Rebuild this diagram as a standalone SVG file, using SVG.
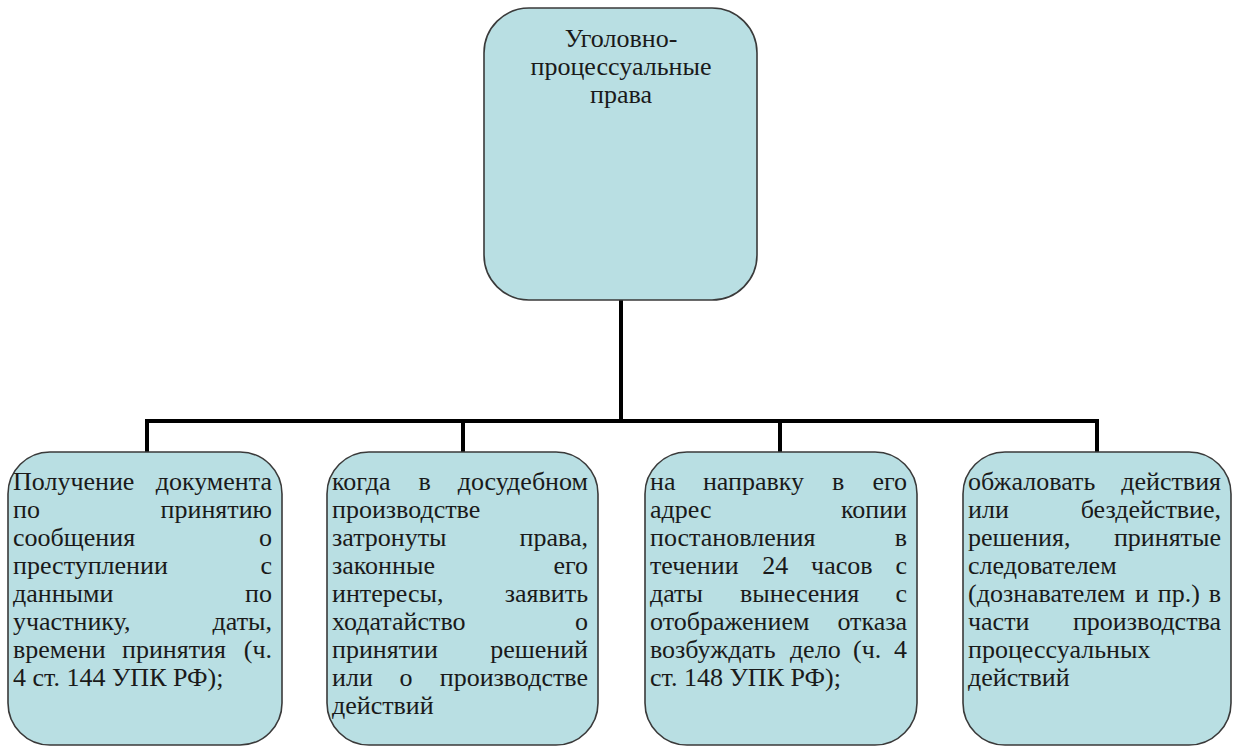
<svg xmlns="http://www.w3.org/2000/svg" width="1234" height="746" viewBox="0 0 1234 746">
<rect width="1234" height="746" fill="#fff"/>
<g id="connectors" stroke="#000" stroke-width="4" fill="none" stroke-linecap="square">
<path d="M621,300 V421"/>
<path d="M147,421 H1097"/>
<path d="M147,421 V452"/>
<path d="M463,421 V452"/>
<path d="M780,421 V452"/>
<path d="M1097,421 V452"/>
</g>
<g id="root">
<rect x="484" y="8" width="273" height="292" rx="45" fill="#b9dfe3" stroke="#3a3a3a" stroke-width="1.6"/>
<text x="621" y="47" text-anchor="middle" font-family="Liberation Serif" font-size="26" fill="#1a1a1a">Уголовно-</text>
<text x="621" y="75" text-anchor="middle" font-family="Liberation Serif" font-size="26" fill="#1a1a1a">процессуальные</text>
<text x="621" y="103" text-anchor="middle" font-family="Liberation Serif" font-size="26" fill="#1a1a1a">права</text>
</g>
<g id="n1" font-family="Liberation Serif" font-size="26" fill="#1a1a1a">
<rect x="8" y="452" width="274" height="293" rx="42" fill="#b9dfe3" stroke="#3a3a3a" stroke-width="1.6"/>
<text x="13" y="490">Получение</text><text x="272" y="490" text-anchor="end">документа</text>
<text x="13" y="518">по</text><text x="272" y="518" text-anchor="end">принятию</text>
<text x="13" y="546">сообщения</text><text x="272" y="546" text-anchor="end">о</text>
<text x="13" y="574">преступлении</text><text x="272" y="574" text-anchor="end">с</text>
<text x="13" y="602">данными</text><text x="272" y="602" text-anchor="end">по</text>
<text x="13" y="630">участнику,</text><text x="272" y="630" text-anchor="end">даты,</text>
<text x="13" y="658">времени</text><text x="122" y="658">принятия</text><text x="272" y="658" text-anchor="end">(ч.</text>
<text x="13" y="686">4 ст. 144 УПК РФ);</text>
</g>
<g id="n2" font-family="Liberation Serif" font-size="26" fill="#1a1a1a">
<rect x="327" y="452" width="271" height="293" rx="42" fill="#b9dfe3" stroke="#3a3a3a" stroke-width="1.6"/>
<text x="332" y="490">когда</text><text x="418.6" y="490">в</text><text x="588" y="490" text-anchor="end">досудебном</text>
<text x="332" y="518">производстве</text>
<text x="332" y="546">затронуты</text><text x="588" y="546" text-anchor="end">права,</text>
<text x="332" y="574">законные</text><text x="588" y="574" text-anchor="end">его</text>
<text x="332" y="602">интересы,</text><text x="588" y="602" text-anchor="end">заявить</text>
<text x="332" y="630">ходатайство</text><text x="588" y="630" text-anchor="end">о</text>
<text x="332" y="658">принятии</text><text x="588" y="658" text-anchor="end">решений</text>
<text x="332" y="686">или</text><text x="399.4" y="686">о</text><text x="588" y="686" text-anchor="end">производстве</text>
<text x="332" y="714">действий</text>
</g>
<g id="n3" font-family="Liberation Serif" font-size="26" fill="#1a1a1a">
<rect x="645" y="452" width="272" height="293" rx="42" fill="#b9dfe3" stroke="#3a3a3a" stroke-width="1.6"/>
<text x="650" y="490">на</text><text x="702.9" y="490">направку</text><text x="832.1" y="490">в</text><text x="907" y="490" text-anchor="end">его</text>
<text x="650" y="518">адрес</text><text x="907" y="518" text-anchor="end">копии</text>
<text x="650" y="546">постановления</text><text x="907" y="546" text-anchor="end">в</text>
<text x="650" y="574">течении</text><text x="762.2" y="574">24</text><text x="811.1" y="574">часов</text><text x="907" y="574" text-anchor="end">с</text>
<text x="650" y="602">даты</text><text x="740.1" y="602">вынесения</text><text x="907" y="602" text-anchor="end">с</text>
<text x="650" y="630">отображением</text><text x="907" y="630" text-anchor="end">отказа</text>
<text x="650" y="658">возбуждать</text><text x="789.9" y="658">дело</text><text x="853" y="658">(ч.</text><text x="907" y="658" text-anchor="end">4</text>
<text x="650" y="686">ст. 148 УПК РФ);</text>
</g>
<g id="n4" font-family="Liberation Serif" font-size="26" fill="#1a1a1a">
<rect x="963" y="452" width="268" height="293" rx="42" fill="#b9dfe3" stroke="#3a3a3a" stroke-width="1.6"/>
<text x="968" y="490">обжаловать</text><text x="1221" y="490" text-anchor="end">действия</text>
<text x="968" y="518">или</text><text x="1221" y="518" text-anchor="end">бездействие,</text>
<text x="968" y="546">решения,</text><text x="1221" y="546" text-anchor="end">принятые</text>
<text x="968" y="574">следователем</text>
<text x="968" y="602">(дознавателем</text><text x="1135" y="602">и</text><text x="1157.8" y="602">пр.)</text><text x="1221" y="602" text-anchor="end">в</text>
<text x="968" y="630">части</text><text x="1221" y="630" text-anchor="end">производства</text>
<text x="968" y="658">процессуальных</text>
<text x="968" y="686">действий</text>
</g>
</svg>
